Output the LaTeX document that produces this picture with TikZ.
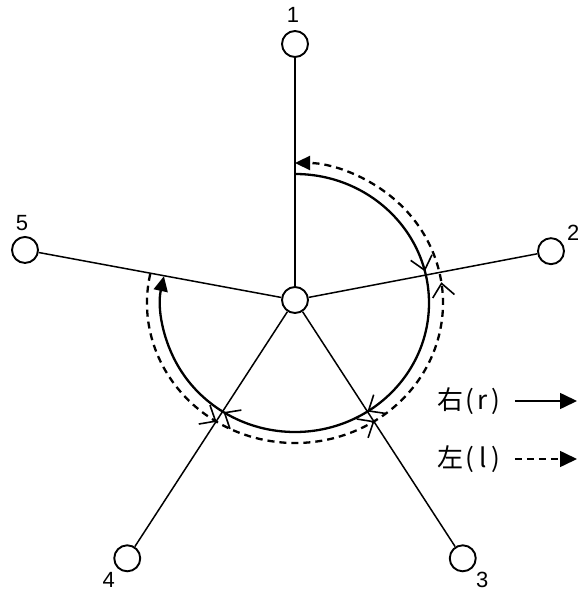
\documentclass[tikz,border=0pt]{standalone}
\usepackage{fontspec}
\setmainfont{Liberation Sans}
\newfontfamily\jpfont{Noto Sans CJK JP}
\usetikzlibrary{positioning,arrows.meta,decorations.markings}
\newcommand\halfw[1]{\makebox[0.5em]{#1}}

\begin{document}
\begin{tikzpicture}[x=0.5pt, y=0.5pt,
    spoke/.style={line width=0.75pt},
    vertex/.style={circle, draw, line width=0.95pt, fill=white, minimum size=13pt, inner sep=0pt},
    num/.style={inner sep=0pt, font=\fontsize{11pt}{13pt}\selectfont},
    legendtext/.style={inner sep=0pt, anchor=west, font=\jpfont\fontsize{13pt}{15pt}\selectfont},
    route/.style={line width=1.15pt},
    leftroute/.style={route, dash pattern=on 3.5pt off 2.5pt},
    headtip/.style={-{Triangle[length=7.5pt, width=7pt]}},
    chevrons/.style n args={3}{postaction={decorate}, decoration={markings,
        mark=at position #1 with {\arrow{Straight Barb[length=6.5pt, width=11pt, line width=0.8pt]}},
        mark=at position #2 with {\arrow{Straight Barb[length=6.5pt, width=11pt, line width=0.8pt]}},
        mark=at position #3 with {\arrow{Straight Barb[length=6.5pt, width=11pt, line width=0.8pt]}}}}
]
    \useasboundingbox (-295,-293) rectangle (282,300);

    % Radii of the two routes (ellipse, centre slightly below the hub)
    \def\inRx{134}
    \def\inRy{129}
    \def\outRx{148}
    \def\outRy{140}

    % Hub and outer vertices
    \node[vertex] (c) at (0,0) {};
    \node[vertex] (n1) at (90:256) {};
    \node[vertex] (n2) at (10.8:260.6) {};
    \node[vertex] (n3) at (-57:308) {};
    \node[vertex] (n4) at (-123:308) {};
    \node[vertex] (n5) at (169.5:274.6) {};

    % Draw spokes
    \foreach \i in {1,...,5}
        \draw[spoke] (c) -- (n\i);

    % Vertex numbers
    \node[num, above=3.5pt of n1, xshift=-1pt] (t1) {1};
    \node[num, above right=0pt and 3pt of n2] (t2) {2};
    \node[num, below right=2pt and 1.5pt of n3] (t3) {3};
    \node[num, below left=2pt and 1pt of n4] (t4) {4};
    \node[num, above=2.5pt of n5, xshift=-1.5pt] (t5) {5};

    % Right route: clockwise from 1 round to 5
    \draw[route, headtip, chevrons={0.27}{0.521}{0.755}]
        ([shift={(0,-3)}]90:\inRx\space and \inRy) arc[start angle=90, end angle=-192, x radius=\inRx, y radius=\inRy];

    % Left route: counter-clockwise from 5 round to 1
    \draw[leftroute, headtip, chevrons={0.245}{0.479}{0.71}]
        ([shift={(0,-3)}]168:\outRx\space and \outRy) arc[start angle=168, end angle=450, x radius=\outRx, y radius=\outRy];

    % Legend
    \node[legendtext] (tr) at (142,-101) {右\halfw{(}\halfw{r}\halfw{)}};
    \node[legendtext] (tl) at (142,-159) {左\halfw{(}\halfw{l}\halfw{)}};
    \coordinate (re) at (282,-101);
    \coordinate (le) at (282,-159);
    \draw[line width=0.8pt, -{Triangle[length=8.5pt, width=8pt]}, shorten <=6pt] (tr) -- (re);
    \draw[line width=0.8pt, dash pattern=on 3.5pt off 2.5pt, -{Triangle[length=8.5pt, width=8pt]}, shorten <=6pt] (tl) -- (le);

\end{tikzpicture}
\end{document}
